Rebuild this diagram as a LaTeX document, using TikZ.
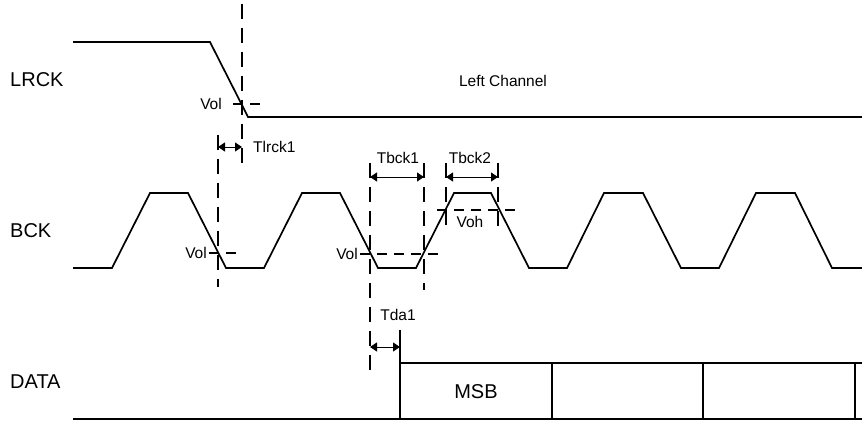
\documentclass[tikz,border=0pt]{standalone}
\usepackage{fontspec}
\setmainfont{Liberation Sans}
\usetikzlibrary{arrows.meta}
\tikzset{
	sig/.style={line width=1.7pt},
	vguide/.style={line width=1.3pt, dash pattern=on 15pt off 9pt},
	hguide/.style={line width=1.3pt, dash pattern=on 10pt off 7pt},
	dim/.style={line width=0.8pt, {Triangle[length=7pt,width=9pt]}-{Triangle[length=7pt,width=9pt]}},
	big/.style={inner sep=0pt, font=\fontsize{20}{24}\selectfont},
	small/.style={inner sep=0pt, font=\fontsize{15.5}{18}\selectfont}
}
\begin{document}
\begin{tikzpicture}[x=1pt, y=-1pt]
	\useasboundingbox (0, 0) rectangle (862, 425);
	\node[big, anchor=west] at (10, 80) (lrck) {LRCK};
	\node[big, anchor=west] at (10, 231) (bck) {BCK};
	\node[big, anchor=west] at (10, 382) (data) {DATA};
	\draw[sig] (73, 42) -- (210, 42) -- (248, 117) -- (862, 117);
	\node[small] at (503, 81) (left) {Left Channel};
	\draw[sig] (73, 268) -- (112, 268) -- (150, 193) -- (188, 193) -- (226, 268) -- (264, 268)
		-- (302, 193) -- (340, 193) -- (378, 268) -- (416, 268) -- (454, 193) -- (491, 193)
		-- (529, 268) -- (567, 268) -- (604, 193) -- (643, 193) -- (681, 268) -- (719, 268)
		-- (756, 193) -- (795, 193) -- (832, 268) -- (862, 268);
	\draw[sig] (400, 363) -- (862, 363);
	\draw[sig] (73, 419) -- (862, 419);
	\draw[sig] (400, 330) -- (400, 419);
	\draw[sig] (552, 363) -- (552, 419);
	\draw[sig] (703, 363) -- (703, 419);
	\draw[sig] (855, 363) -- (855, 419);
	\node[big] at (476, 392) (msb) {MSB};
	\draw[vguide] (242, 4) -- (242, 164);
	\draw[vguide] (218, 135) -- (218, 287);
	\draw[vguide] (370, 163) -- (370, 370);
	\draw[vguide] (424, 163) -- (424, 290);
	\draw[vguide] (446, 163) -- (446, 225);
	\draw[vguide] (498, 163) -- (498, 230);
	\node[small, anchor=east] at (222, 104) (vol1) {Vol};
	\draw[hguide] (233, 104) -- (264, 104);
	\node[small, anchor=east] at (207, 253) (vol2) {Vol};
	\draw[hguide] (vol2.east) ++(2, 0) -- (240, 253);
	\node[small, anchor=east] at (358, 254) (vol3) {Vol};
	\draw[hguide] (vol3.east) ++(2, 0) -- (443, 254);
	\draw[hguide] (437, 210) -- (517, 210);
	\node[small] at (470, 222) (voh) {Voh};
	\coordinate (t1a) at (218, 147);
	\coordinate (t1b) at (242, 147);
	\draw[dim] (t1a) -- (t1b);
	\node[small, anchor=west] at (253, 147) (tlrck) {Tlrck1};
	\coordinate (t2a) at (370, 177);
	\coordinate (t2b) at (424, 177);
	\draw[dim] (t2a) -- (t2b);
	\node[small] at (398, 158) (tbck1) {Tbck1};
	\coordinate (t3a) at (446, 177);
	\coordinate (t3b) at (498, 177);
	\draw[dim] (t3a) -- (t3b);
	\node[small] at (470, 158) (tbck2) {Tbck2};
	\coordinate (t4a) at (370, 347);
	\coordinate (t4b) at (400, 347);
	\draw[dim] (t4a) -- (t4b);
	\node[small] at (398, 315) (tda) {Tda1};
\end{tikzpicture}
\end{document}
